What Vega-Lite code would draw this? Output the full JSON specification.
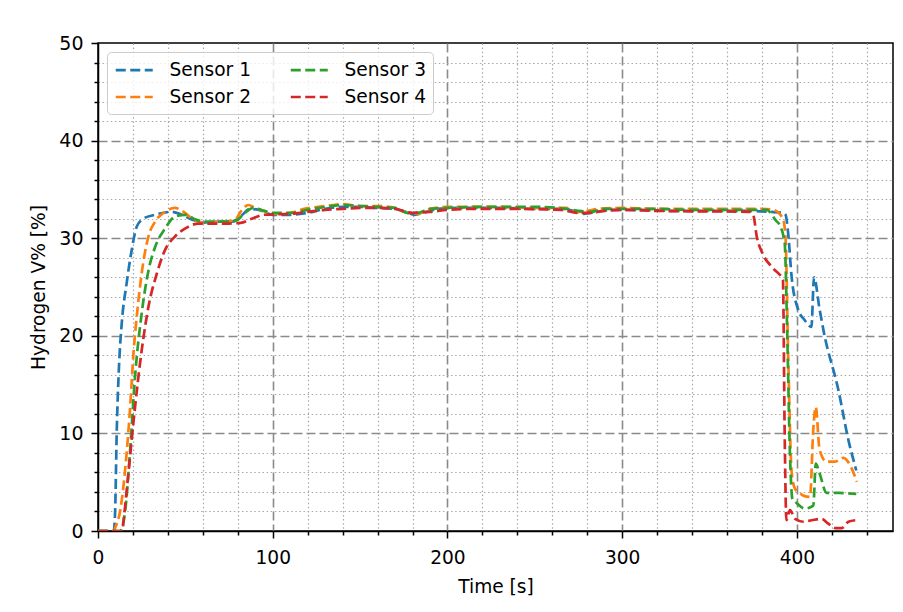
{
  "$schema": "https://vega.github.io/schema/vega-lite/v6.json",
  "width": 795,
  "height": 488,
  "autosize": "none",
  "padding": {"left": 98, "top": 43, "right": 10, "bottom": 81},
  "background": "white",
  "config": {
    "font": "DejaVu Sans",
    "view": {"stroke": "black", "strokeWidth": 1.5},
    "axis": {"labelFont": "DejaVu Sans", "titleFont": "DejaVu Sans", "labelColor": "black", "titleColor": "black", "titleFontWeight": "normal"}
  },
  "data": {"values": [
    {"s":"Sensor 1","t":0,"v":0},{"s":"Sensor 1","t":9,"v":0},{"s":"Sensor 1","t":9.8,"v":2},{"s":"Sensor 1","t":10.7,"v":10},{"s":"Sensor 1","t":12,"v":16.8},{"s":"Sensor 1","t":13.6,"v":21.3},{"s":"Sensor 1","t":16.4,"v":25.4},{"s":"Sensor 1","t":19.3,"v":28.8},{"s":"Sensor 1","t":22.2,"v":31.2},{"s":"Sensor 1","t":26,"v":32},{"s":"Sensor 1","t":32.7,"v":32.4},{"s":"Sensor 1","t":42,"v":32.7},{"s":"Sensor 1","t":48,"v":32.4},{"s":"Sensor 1","t":54,"v":31.9},{"s":"Sensor 1","t":60,"v":31.6},{"s":"Sensor 1","t":70,"v":31.7},{"s":"Sensor 1","t":77,"v":31.7},{"s":"Sensor 1","t":82,"v":32.3},{"s":"Sensor 1","t":87,"v":33.0},{"s":"Sensor 1","t":92,"v":32.9},{"s":"Sensor 1","t":100,"v":32.4},{"s":"Sensor 1","t":110,"v":32.4},{"s":"Sensor 1","t":120,"v":32.6},{"s":"Sensor 1","t":130,"v":33.0},{"s":"Sensor 1","t":140,"v":33.2},{"s":"Sensor 1","t":150,"v":33.2},{"s":"Sensor 1","t":160,"v":33.1},{"s":"Sensor 1","t":170,"v":33.0},{"s":"Sensor 1","t":176,"v":32.7},{"s":"Sensor 1","t":181,"v":32.4},{"s":"Sensor 1","t":188,"v":32.7},{"s":"Sensor 1","t":195,"v":33.0},{"s":"Sensor 1","t":205,"v":33.1},{"s":"Sensor 1","t":230,"v":33.1},{"s":"Sensor 1","t":250,"v":33.0},{"s":"Sensor 1","t":265,"v":33.0},{"s":"Sensor 1","t":272,"v":32.8},{"s":"Sensor 1","t":278,"v":32.5},{"s":"Sensor 1","t":285,"v":32.7},{"s":"Sensor 1","t":295,"v":32.9},{"s":"Sensor 1","t":310,"v":32.9},{"s":"Sensor 1","t":330,"v":32.8},{"s":"Sensor 1","t":350,"v":32.8},{"s":"Sensor 1","t":370,"v":32.8},{"s":"Sensor 1","t":385,"v":32.7},{"s":"Sensor 1","t":392,"v":32.6},{"s":"Sensor 1","t":393.5,"v":32.4},{"s":"Sensor 1","t":395,"v":30.5},{"s":"Sensor 1","t":397,"v":26},{"s":"Sensor 1","t":400.5,"v":22.8},{"s":"Sensor 1","t":404.5,"v":21.6},{"s":"Sensor 1","t":408.3,"v":20.9},{"s":"Sensor 1","t":409.8,"v":26},{"s":"Sensor 1","t":413,"v":22.7},{"s":"Sensor 1","t":415.5,"v":20.3},{"s":"Sensor 1","t":423.8,"v":14.4},{"s":"Sensor 1","t":429.5,"v":9.3},{"s":"Sensor 1","t":434,"v":6.2},
    {"s":"Sensor 2","t":0,"v":0},{"s":"Sensor 2","t":9,"v":0},{"s":"Sensor 2","t":10,"v":0.4},{"s":"Sensor 2","t":12.6,"v":2},{"s":"Sensor 2","t":16.4,"v":8},{"s":"Sensor 2","t":18.4,"v":12.7},{"s":"Sensor 2","t":20.3,"v":18.2},{"s":"Sensor 2","t":22.2,"v":22},{"s":"Sensor 2","t":25,"v":26.4},{"s":"Sensor 2","t":28.9,"v":30.2},{"s":"Sensor 2","t":32.7,"v":31.7},{"s":"Sensor 2","t":38.4,"v":32.7},{"s":"Sensor 2","t":44,"v":33.1},{"s":"Sensor 2","t":49,"v":32.7},{"s":"Sensor 2","t":54,"v":32},{"s":"Sensor 2","t":60,"v":31.6},{"s":"Sensor 2","t":70,"v":31.7},{"s":"Sensor 2","t":78,"v":31.8},{"s":"Sensor 2","t":82,"v":32.8},{"s":"Sensor 2","t":86,"v":33.4},{"s":"Sensor 2","t":90,"v":33.1},{"s":"Sensor 2","t":95,"v":32.8},{"s":"Sensor 2","t":100,"v":32.5},{"s":"Sensor 2","t":110,"v":32.6},{"s":"Sensor 2","t":118,"v":33.0},{"s":"Sensor 2","t":125,"v":33.2},{"s":"Sensor 2","t":135,"v":33.4},{"s":"Sensor 2","t":140,"v":33.5},{"s":"Sensor 2","t":150,"v":33.3},{"s":"Sensor 2","t":160,"v":33.3},{"s":"Sensor 2","t":170,"v":33.1},{"s":"Sensor 2","t":177,"v":32.6},{"s":"Sensor 2","t":183,"v":32.5},{"s":"Sensor 2","t":190,"v":33.0},{"s":"Sensor 2","t":200,"v":33.2},{"s":"Sensor 2","t":230,"v":33.2},{"s":"Sensor 2","t":250,"v":33.1},{"s":"Sensor 2","t":268,"v":33.1},{"s":"Sensor 2","t":274,"v":32.7},{"s":"Sensor 2","t":280,"v":32.8},{"s":"Sensor 2","t":286,"v":33.0},{"s":"Sensor 2","t":300,"v":33.1},{"s":"Sensor 2","t":320,"v":33.0},{"s":"Sensor 2","t":360,"v":33.0},{"s":"Sensor 2","t":380,"v":33.0},{"s":"Sensor 2","t":386.5,"v":32.9},{"s":"Sensor 2","t":392,"v":32.0},{"s":"Sensor 2","t":393.5,"v":30},{"s":"Sensor 2","t":395,"v":18},{"s":"Sensor 2","t":397,"v":6},{"s":"Sensor 2","t":399,"v":4.3},{"s":"Sensor 2","t":401,"v":4.0},{"s":"Sensor 2","t":404,"v":3.6},{"s":"Sensor 2","t":407.5,"v":3.5},{"s":"Sensor 2","t":409.4,"v":10.5},{"s":"Sensor 2","t":410.8,"v":12.7},{"s":"Sensor 2","t":413,"v":8.3},{"s":"Sensor 2","t":417,"v":7.1},{"s":"Sensor 2","t":421.7,"v":7.1},{"s":"Sensor 2","t":426.6,"v":7.5},{"s":"Sensor 2","t":430.3,"v":6.8},{"s":"Sensor 2","t":434.3,"v":5.05},
    {"s":"Sensor 3","t":0,"v":0},{"s":"Sensor 3","t":12.6,"v":0},{"s":"Sensor 3","t":15.5,"v":2},{"s":"Sensor 3","t":18.4,"v":8.3},{"s":"Sensor 3","t":21.2,"v":15.8},{"s":"Sensor 3","t":25,"v":22.3},{"s":"Sensor 3","t":28.9,"v":26.7},{"s":"Sensor 3","t":32.7,"v":29.1},{"s":"Sensor 3","t":38.4,"v":31},{"s":"Sensor 3","t":44,"v":32.2},{"s":"Sensor 3","t":50,"v":32.4},{"s":"Sensor 3","t":56,"v":31.9},{"s":"Sensor 3","t":62,"v":31.7},{"s":"Sensor 3","t":72,"v":31.7},{"s":"Sensor 3","t":79,"v":31.8},{"s":"Sensor 3","t":84,"v":32.6},{"s":"Sensor 3","t":89,"v":33.1},{"s":"Sensor 3","t":95,"v":32.8},{"s":"Sensor 3","t":100,"v":32.6},{"s":"Sensor 3","t":110,"v":32.6},{"s":"Sensor 3","t":120,"v":32.9},{"s":"Sensor 3","t":130,"v":33.2},{"s":"Sensor 3","t":140,"v":33.4},{"s":"Sensor 3","t":150,"v":33.3},{"s":"Sensor 3","t":160,"v":33.2},{"s":"Sensor 3","t":170,"v":33.1},{"s":"Sensor 3","t":177,"v":32.6},{"s":"Sensor 3","t":183,"v":32.6},{"s":"Sensor 3","t":190,"v":33.0},{"s":"Sensor 3","t":200,"v":33.1},{"s":"Sensor 3","t":215,"v":33.2},{"s":"Sensor 3","t":255,"v":33.2},{"s":"Sensor 3","t":268,"v":33.0},{"s":"Sensor 3","t":275,"v":32.8},{"s":"Sensor 3","t":282,"v":32.7},{"s":"Sensor 3","t":290,"v":33.0},{"s":"Sensor 3","t":320,"v":33.0},{"s":"Sensor 3","t":340,"v":32.9},{"s":"Sensor 3","t":382.7,"v":32.9},{"s":"Sensor 3","t":388,"v":31.8},{"s":"Sensor 3","t":390,"v":31.4},{"s":"Sensor 3","t":393,"v":29.5},{"s":"Sensor 3","t":394.5,"v":20},{"s":"Sensor 3","t":396,"v":8},{"s":"Sensor 3","t":397.5,"v":3.2},{"s":"Sensor 3","t":399,"v":3.0},{"s":"Sensor 3","t":404.5,"v":2.3},{"s":"Sensor 3","t":409.4,"v":2.6},{"s":"Sensor 3","t":410.8,"v":6.9},{"s":"Sensor 3","t":413,"v":5.9},{"s":"Sensor 3","t":417,"v":3.9},{"s":"Sensor 3","t":424,"v":3.9},{"s":"Sensor 3","t":434,"v":3.8},
    {"s":"Sensor 4","t":0,"v":0},{"s":"Sensor 4","t":14,"v":0},{"s":"Sensor 4","t":14.5,"v":0.8},{"s":"Sensor 4","t":17.4,"v":5.9},{"s":"Sensor 4","t":21.2,"v":12.7},{"s":"Sensor 4","t":25,"v":18.5},{"s":"Sensor 4","t":28.9,"v":23},{"s":"Sensor 4","t":33.7,"v":26.4},{"s":"Sensor 4","t":38.4,"v":28.8},{"s":"Sensor 4","t":44.2,"v":30.2},{"s":"Sensor 4","t":50,"v":31},{"s":"Sensor 4","t":57.5,"v":31.5},{"s":"Sensor 4","t":75,"v":31.5},{"s":"Sensor 4","t":82.4,"v":31.6},{"s":"Sensor 4","t":88,"v":32.0},{"s":"Sensor 4","t":95,"v":32.4},{"s":"Sensor 4","t":110,"v":32.5},{"s":"Sensor 4","t":120,"v":32.7},{"s":"Sensor 4","t":130,"v":32.9},{"s":"Sensor 4","t":140,"v":33.0},{"s":"Sensor 4","t":150,"v":33.1},{"s":"Sensor 4","t":160,"v":33.1},{"s":"Sensor 4","t":170,"v":33.0},{"s":"Sensor 4","t":180,"v":32.6},{"s":"Sensor 4","t":190,"v":32.7},{"s":"Sensor 4","t":200,"v":32.9},{"s":"Sensor 4","t":215,"v":33.0},{"s":"Sensor 4","t":240,"v":33.0},{"s":"Sensor 4","t":265,"v":32.9},{"s":"Sensor 4","t":275,"v":32.6},{"s":"Sensor 4","t":282,"v":32.6},{"s":"Sensor 4","t":290,"v":32.8},{"s":"Sensor 4","t":300,"v":32.9},{"s":"Sensor 4","t":320,"v":32.8},{"s":"Sensor 4","t":373,"v":32.7},{"s":"Sensor 4","t":375,"v":32.4},{"s":"Sensor 4","t":377,"v":30.2},{"s":"Sensor 4","t":380.7,"v":28.3},{"s":"Sensor 4","t":386.5,"v":26.9},{"s":"Sensor 4","t":392,"v":25.7},{"s":"Sensor 4","t":393,"v":10},{"s":"Sensor 4","t":394,"v":1.1},{"s":"Sensor 4","t":396,"v":2.15},{"s":"Sensor 4","t":399,"v":1.25},{"s":"Sensor 4","t":403.7,"v":0.95},{"s":"Sensor 4","t":408.5,"v":1.1},{"s":"Sensor 4","t":414,"v":1.25},{"s":"Sensor 4","t":418,"v":0.75},{"s":"Sensor 4","t":421.9,"v":0.3},{"s":"Sensor 4","t":425.7,"v":0.3},{"s":"Sensor 4","t":429.5,"v":0.95},{"s":"Sensor 4","t":433.4,"v":1.1}
  ]},
  "mark": {"type": "line", "strokeWidth": 2.7, "strokeDash": [10, 4.5], "interpolate": "monotone", "clip": true},
  "encoding": {
    "x": {"field": "t", "type": "quantitative", "scale": {"domain": [0, 455], "nice": false, "zero": false},
      "axis": {
        "title": "Time [s]", "titleFontSize": 18.6, "titlePadding": 11,
        "values": [0,20,40,60,80,100,120,140,160,180,200,220,240,260,280,300,320,340,360,380,400,420,440],
        "labelExpr": "datum.value % 100 === 0 ? datum.label : ''",
        "labelFontSize": 18.6, "labelPadding": 10, "labelFlush": false, "labelOverlap": false,
        "domain": true, "domainColor": "black", "domainWidth": 1.5,
        "tickColor": "black", "tickWidth": 1.5,
        "tickSize": {"condition": {"test": "datum.value % 100 === 0", "value": 7}, "value": 4},
        "grid": true,
        "gridColor": {"condition": {"test": "datum.value % 100 === 0", "value": "#8a8a8a"}, "value": "#a8a8a8"},
        "gridDash": {"condition": {"test": "datum.value % 100 === 0", "value": [9, 4]}, "value": [1.5, 2.6]},
        "gridWidth": {"condition": {"test": "datum.value % 100 === 0", "value": 1.6}, "value": 1.2},
        "gridOpacity": {"condition": {"test": "datum.value === 0", "value": 0}, "value": 1}
      }},
    "y": {"field": "v", "type": "quantitative", "scale": {"domain": [0, 50], "nice": false},
      "axis": {
        "title": "Hydrogen V% [%]", "titleFontSize": 18.6, "titlePadding": 10,
        "values": [0,2,4,6,8,10,12,14,16,18,20,22,24,26,28,30,32,34,36,38,40,42,44,46,48,50],
        "labelExpr": "datum.value % 10 === 0 ? datum.label : ''",
        "labelFontSize": 19, "labelPadding": 8, "labelFlush": false, "labelOverlap": false,
        "domain": true, "domainColor": "black", "domainWidth": 1.5,
        "tickColor": "black", "tickWidth": 1.5,
        "tickSize": {"condition": {"test": "datum.value % 10 === 0", "value": 7}, "value": 4},
        "grid": true,
        "gridColor": {"condition": {"test": "datum.value % 10 === 0", "value": "#8a8a8a"}, "value": "#a8a8a8"},
        "gridDash": {"condition": {"test": "datum.value % 10 === 0", "value": [9, 4]}, "value": [1.5, 2.6]},
        "gridWidth": {"condition": {"test": "datum.value % 10 === 0", "value": 1.6}, "value": 1.2},
        "gridOpacity": {"condition": {"test": "datum.value === 0 || datum.value >= 50", "value": 0}, "value": 1}
      }},
    "color": {"field": "s", "type": "nominal",
      "scale": {"domain": ["Sensor 1", "Sensor 2", "Sensor 3", "Sensor 4"], "range": ["#1f77b4", "#ff7f0e", "#2ca02c", "#d62728"]},
      "legend": {
        "title": null, "orient": "top-left", "offset": 9, "columns": 2,
        "symbolType": "M-1,0H3", "symbolSize": 342, "symbolStrokeWidth": 2.7, "symbolDash": [10, 4.5], "symbolFillColor": "transparent",
        "labelFont": "DejaVu Sans", "labelFontSize": 18.6, "labelColor": "black", "labelOffset": 33.5,
        "columnPadding": 34, "rowPadding": 6, "padding": 7,
        "strokeColor": "#cccccc", "fillColor": "rgba(255,255,255,0.8)", "cornerRadius": 4
      }}
  }
}
